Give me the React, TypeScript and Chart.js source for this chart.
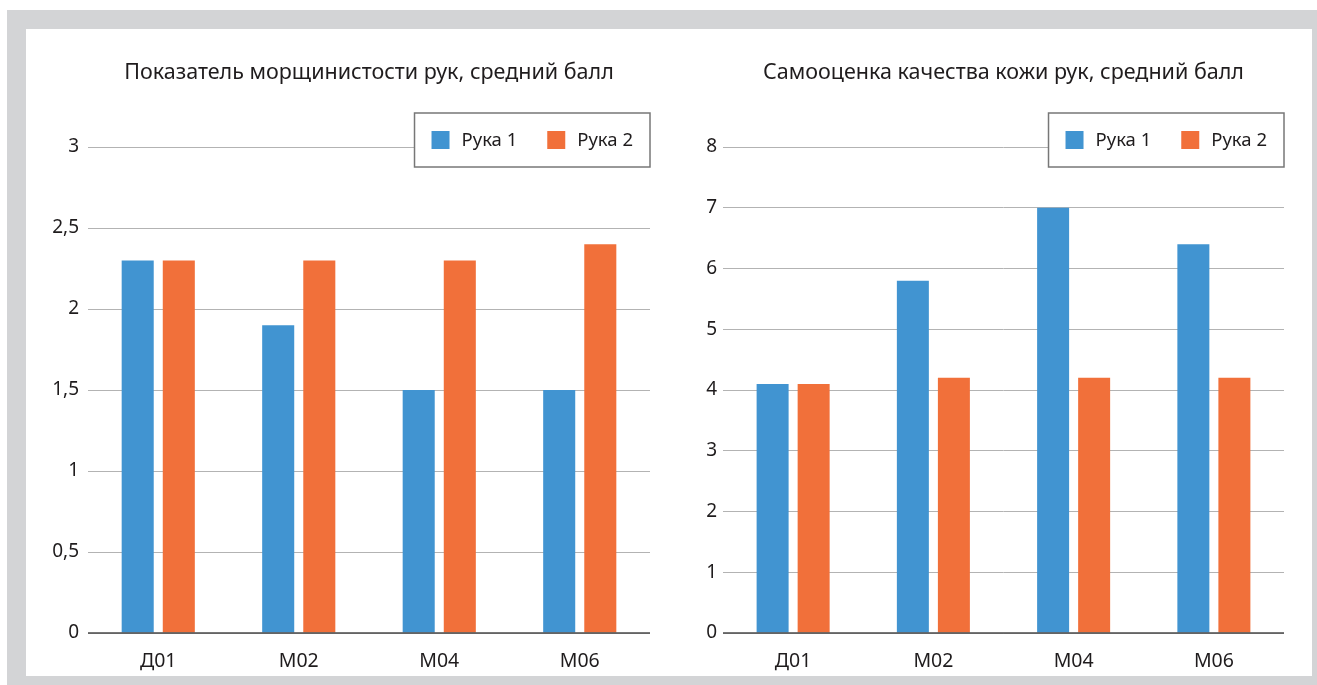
import React, { useEffect, useRef } from 'react';
import { Chart, registerables } from 'chart.js';

Chart.register(...registerables);

const FONT = '"Noto Sans", "DejaVu Sans", sans-serif';
const TEXT = '#1f1c1d';
const BLUE = '#4194d1';
const ORANGE = '#f1703a';

const categories = ['Д01', 'М02', 'М04', 'М06'];
const seriesNames = ['Рука 1', 'Рука 2'];

const wrinkleTitle = 'Показатель морщинистости рук, средний балл';
const wrinkleHand1 = [2.3, 1.9, 1.5, 1.5];
const wrinkleHand2 = [2.3, 2.3, 2.3, 2.4];
const wrinkleMax = 3;
const wrinkleStep = 0.5;

const skinTitle = 'Самооценка качества кожи рук, средний балл';
const skinHand1 = [4.1, 5.8, 7.0, 6.4];
const skinHand2 = [4.1, 4.2, 4.2, 4.2];
const skinMax = 8;
const skinStep = 1;

const overlayPlugin = {
  id: 'overlay',
  afterDatasetsDraw(chart: any, _args: any, opts: any) {
    const { ctx, chartArea, scales } = chart;
    const y0 = scales.y.getPixelForValue(0);
    ctx.save();
    // title centred over the plot area
    ctx.font = `21.5px ${FONT}`;
    ctx.fillStyle = TEXT;
    ctx.textAlign = 'center';
    ctx.textBaseline = 'middle';
    ctx.fillText(opts.title, (chartArea.left + chartArea.right) / 2, opts.titleY);

    // zero line over bars
    ctx.strokeStyle = '#4a4a4a';
    ctx.lineWidth = 1.5;
    ctx.beginPath();
    ctx.moveTo(chartArea.left, y0);
    ctx.lineTo(chartArea.right, y0);
    ctx.stroke();

    // legend box
    ctx.font = `18.5px ${FONT}`;
    const items = chart.data.datasets.map((d: any) => ({
      label: d.label,
      color: d.backgroundColor,
      w: ctx.measureText(d.label).width,
    }));
    const padL = 17, sq = 18, gapT = 12, gapI = 30, padR = 17, h = 54;
    const width =
      padL + padR + items.reduce((s: number, it: any) => s + sq + gapT + it.w, 0) + gapI * (items.length - 1);
    const top = opts.top;
    const right = chartArea.right;
    const left = right - width;
    ctx.fillStyle = '#ffffff';
    ctx.fillRect(left, top, width, h);
    ctx.strokeStyle = '#777777';
    ctx.lineWidth = 1.5;
    ctx.strokeRect(left, top, width, h);
    let x = left + padL;
    const cy = top + h / 2;
    items.forEach((it: any) => {
      ctx.fillStyle = it.color;
      ctx.fillRect(x, cy - sq / 2, sq, sq);
      x += sq + gapT;
      ctx.fillStyle = TEXT;
      ctx.textBaseline = 'middle';
      ctx.textAlign = 'left';
      ctx.fillText(it.label, x, cy + 1);
      x += it.w + gapI;
    });
    ctx.restore();
  },
};

type Props = {
  title: string;
  hand1: number[];
  hand2: number[];
  max: number;
  step: number;
  yWidth: number;
  yPad: number;
  rightPad: number;
  left: number;
};

function BarChart({ title, hand1, hand2, max, step, yWidth, yPad, rightPad, left }: Props) {
  const ref = useRef<HTMLCanvasElement>(null);
  useEffect(() => {
    if (!ref.current) return;
    const chart = new Chart(ref.current, {
      type: 'bar',
      data: {
        labels: categories,
        datasets: [
          { label: seriesNames[0], data: hand1, backgroundColor: BLUE, categoryPercentage: 0.585, barPercentage: 0.78 },
          { label: seriesNames[1], data: hand2, backgroundColor: ORANGE, categoryPercentage: 0.585, barPercentage: 0.78 },
        ],
      },
      plugins: [overlayPlugin],
      options: {
        animation: false,
        responsive: false,
        layout: { padding: { left: 0, right: rightPad, top: 118, bottom: 0 } },
        plugins: {
          legend: { display: false },
          tooltip: { enabled: false },
          title: { display: false },
          overlay: { top: 84, title, titleY: 44 },
        } as any,
        scales: {
          x: {
            grid: { display: false },
            border: { display: false },
            ticks: { color: TEXT, font: { family: FONT, size: 19.5 }, padding: 9 },
            afterFit: (s: any) => {
              s.height = 43;
            },
          },
          y: {
            min: 0,
            max: max,
            grid: { color: '#b3b3b3', lineWidth: 1, drawTicks: false },
            border: { display: false },
            ticks: {
              stepSize: step,
              color: TEXT,
              padding: yPad,
              font: { family: FONT, size: 19 },
              callback: (v: any) => String(v).replace('.', ','),
            },
            afterFit: (s: any) => {
              s.width = yWidth;
            },
          },
        },
      },
    });
    return () => chart.destroy();
  }, []);
  return (
    <canvas
      ref={ref}
      width={643}
      height={647}
      style={{ position: 'absolute', left, top: 0, width: 643, height: 647 }}
    />
  );
}

export default function App() {
  return (
    <div style={{ position: 'fixed', left: 0, top: 0, width: 1317, height: 685, background: '#ffffff' }}>
      <div style={{ position: 'absolute', left: 7, top: 10, width: 1310, height: 675, background: '#d3d4d6' }} />
      <div style={{ position: 'absolute', left: 26, top: 29, width: 1286, height: 647, background: '#ffffff' }}>
        <BarChart
          title={wrinkleTitle}
          hand1={wrinkleHand1}
          hand2={wrinkleHand2}
          max={wrinkleMax}
          step={wrinkleStep}
          yWidth={62}
          yPad={9}
          rightPad={19}
          left={0}
        />
        <BarChart
          title={skinTitle}
          hand1={skinHand1}
          hand2={skinHand2}
          max={skinMax}
          step={skinStep}
          yWidth={54}
          yPad={6}
          rightPad={28}
          left={643}
        />
      </div>
    </div>
  );
}
